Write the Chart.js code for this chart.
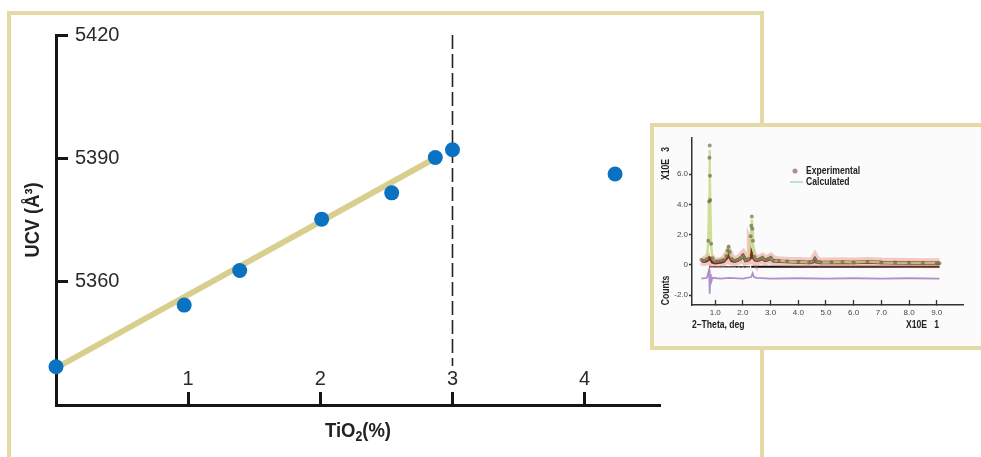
<!DOCTYPE html>
<html>
<head>
<meta charset="utf-8">
<script src="https://cdn.jsdelivr.net/npm/chart.js@4.4.1/dist/chart.umd.min.js"></script>
<style>
  html, body { margin: 0; padding: 0; background: #fff; }
  body { width: 981px; height: 457px; position: relative; overflow: hidden; }
  #frame { position: absolute; left: 7px; top: 11px; width: 757px; height: 520px; box-sizing: border-box;
           border: 4px solid #e3daa6; }
  #main { position: absolute; left: 0; top: 0; }
  #insetBox { position: absolute; left: 650px; top: 123px; width: 360px; height: 227px; box-sizing: border-box;
              border: 4px solid #e3daa6; background: #fbfbfb; }
  #inset { position: absolute; left: 654px; top: 127px; }
</style>
</head>
<body>
<div id="frame"></div>
<canvas id="main" width="981" height="457"></canvas>
<div id="insetBox"></div>
<canvas id="inset" width="327" height="219"></canvas>
<script>
'use strict';

// main plot: unit cell volume vs TiO2 content
var tio2 = [0, 0.97, 1.39, 2.01, 2.54, 2.87, 3.0, 4.23];
var ucv = [5339.3, 5354.3, 5362.7, 5375.2, 5381.6, 5390.2, 5392.1, 5386.2];
var fitX = [0, 2.9];
var fitY = [5339.0, 5390.6];
var limitX = [3, 3];
var limitY = [5420, 5339.5];
var xTicks = [1, 2, 3, 4];
var yTicks = [5360, 5390, 5420];

// inset: XRD refinement pattern (counts x10^3 vs 2-theta x10)
var twoTheta = [0.5, 0.6, 0.7, 0.75, 0.78, 0.79, 0.8, 0.81, 0.82, 0.85, 0.9, 1.0, 1.1, 1.2, 1.3,
  1.4, 1.45, 1.48, 1.52, 1.6, 1.7, 1.8, 1.9, 2.0, 2.05, 2.1, 2.2, 2.28, 2.3, 2.32,
  2.34, 2.36, 2.42, 2.5, 2.6, 2.7, 2.8, 2.9, 3.0, 3.1, 3.3, 3.6, 4.0, 4.4, 4.55,
  4.6, 4.65, 4.8, 5.2, 5.6, 6.0, 6.5, 7.0, 7.5, 8.0, 8.5, 9.0, 9.1];
var observed = [0.35, 0.3, 0.4, 1.6, 4.2, 7.1, 7.9, 5.9, 4.3, 1.4, 0.45, 0.25, 0.25, 0.3, 0.35,
  0.6, 0.95, 1.2, 0.85, 0.4, 0.3, 0.35, 0.45, 0.65, 0.5, 0.35, 0.4, 1.9, 2.6, 3.2,
  2.4, 1.6, 0.55, 0.35, 0.4, 0.5, 0.35, 0.4, 0.5, 0.3, 0.28, 0.25, 0.2, 0.18, 0.25,
  0.4, 0.25, 0.18, 0.18, 0.2, 0.17, 0.22, 0.17, 0.16, 0.14, 0.13, 0.12, 0.12];
var calculated = [0.33, 0.3, 0.38, 1.7, 4.5, 7.0, 7.6, 6.1, 4.1, 1.3, 0.4, 0.22, 0.24, 0.28, 0.33,
  0.62, 1.0, 1.1, 0.8, 0.38, 0.28, 0.33, 0.42, 0.6, 0.48, 0.33, 0.38, 1.8, 2.5, 3.0,
  2.4, 1.5, 0.5, 0.33, 0.38, 0.48, 0.33, 0.38, 0.48, 0.28, 0.26, 0.23, 0.19, 0.17, 0.23,
  0.37, 0.23, 0.17, 0.17, 0.19, 0.16, 0.21, 0.16, 0.15, 0.13, 0.12, 0.11, 0.11];
var background = [0.3, 0.25, 0.3, 0.4, 0.5, 0.55, 0.55, 0.5, 0.45, 0.35, 0.2, 0.15, 0.18, 0.2, 0.25,
  0.45, 0.6, 0.7, 0.55, 0.3, 0.25, 0.3, 0.4, 0.6, 0.45, 0.3, 0.35, 0.5, 0.65, 0.7,
  0.6, 0.55, 0.4, 0.3, 0.35, 0.45, 0.3, 0.35, 0.45, 0.28, 0.25, 0.22, 0.2, 0.17, 0.22,
  0.38, 0.22, 0.17, 0.17, 0.18, 0.16, 0.2, 0.16, 0.15, 0.13, 0.12, 0.11, 0.11];
var diffX = [0.5, 0.7, 0.78, 0.8, 0.82, 0.84, 0.9, 1.2, 1.5, 2.0, 2.3, 2.35, 2.4, 2.5, 3.0, 4.0, 5.0, 6.0, 7.0, 8.0, 9.1];
var diffY = [-0.9, -0.85, -0.3, -1.9, -0.6, -1.2, -0.85, -0.9, -0.85, -0.9, -0.8, -0.55, -0.8, -0.85, -0.9, -0.88, -0.9, -0.88, -0.9, -0.88, -0.9];
var reflX = [0.9, 1.1, 1.3, 1.5, 1.7, 1.85, 2.0, 2.15];
var reflLineX = [2.3, 9.1];
var reflY = -0.12;
var insetXTicks = [1, 2, 3, 4, 5, 6, 7, 8, 9];
var insetYTicks = [-2, 0, 2, 4, 6];

var SANS = '"Liberation Sans", Arial, sans-serif';

function pts(xs, ys) {
  var out = [];
  for (var i = 0; i < xs.length; i++) {
    out.push({x: xs[i], y: Array.isArray(ys) ? ys[i] : ys});
  }
  return out;
}

function fixedTicks(list) {
  return function(scale) {
    scale.ticks = list.map(function(v) { return {value: v}; });
  };
}

// draws condensed text by squeezing the context horizontally
function narrowText(ctx, text, x, y, sx, align) {
  ctx.save();
  ctx.translate(x, y);
  ctx.scale(sx, 1);
  ctx.textAlign = align || 'left';
  ctx.fillText(text, 0, 0);
  ctx.restore();
}

var mainTitles = {
  id: 'mainTitles',
  afterDraw: function(chart) {
    var ctx = chart.ctx, area = chart.chartArea;
    var sx = 0.88;
    ctx.save();
    ctx.fillStyle = '#222';
    ctx.textBaseline = 'alphabetic';
    // x title, with subscript 2
    var big = 'bold 21px ' + SANS, small = 'bold 14px ' + SANS;
    ctx.font = big;
    var w1 = ctx.measureText('TiO').width * sx, w3 = ctx.measureText('(%)').width * sx;
    ctx.font = small;
    var w2 = ctx.measureText('2').width * sx;
    var cx = (area.left + area.right) / 2;
    var x0 = cx - (w1 + w2 + w3) / 2, base = area.bottom + 31.5;
    ctx.font = big;
    narrowText(ctx, 'TiO', x0, base, sx);
    ctx.font = small;
    narrowText(ctx, '2', x0 + w1, base + 4, sx);
    ctx.font = big;
    narrowText(ctx, '(%)', x0 + w1 + w2, base, sx);
    // y title
    ctx.translate(39, (area.top + area.bottom) / 2);
    ctx.rotate(-Math.PI / 2);
    ctx.font = big;
    narrowText(ctx, 'UCV (\u00C5\u00B3)', 0, 0, 0.87, 'center');
    ctx.restore();
  }
};

new Chart(document.getElementById('main'), {
  type: 'scatter',
  data: {
    datasets: [
      {
        label: 'UCV',
        data: pts(tio2, ucv),
        pointRadius: 7.5,
        pointBackgroundColor: '#0b72c2',
        pointBorderWidth: 0,
        showLine: false,
        clip: false,
        order: 0
      },
      {
        label: 'fit',
        data: pts(fitX, fitY),
        showLine: true,
        borderColor: '#d8cf8e',
        borderWidth: 6,
        pointRadius: 0,
        borderCapStyle: 'butt',
        clip: false,
        order: 1
      },
      {
        label: 'limit',
        data: pts(limitX, limitY),
        showLine: true,
        borderColor: '#222',
        borderWidth: 1.6,
        borderDash: [14, 5],
        pointRadius: 0,
        clip: false,
        order: 2
      }
    ]
  },
  options: {
    responsive: false,
    animation: false,
    events: [],
    layout: {padding: {left: 0, top: 35, right: 321, bottom: 0}},
    plugins: {legend: {display: false}, tooltip: {enabled: false}},
    scales: {
      x: {
        type: 'linear', min: 0, max: 4.57,
        afterBuildTicks: fixedTicks(xTicks),
        afterFit: function(s) { s.height = 52; },
        border: {display: true, color: '#151515', width: 3},
        grid: {drawOnChartArea: false, drawTicks: true, tickLength: -13, tickWidth: 3, tickColor: '#151515'},
        ticks: {mirror: true, padding: 14, color: '#2a2a2a', font: {family: SANS, size: 20},
                callback: function(v) { return String(v); }}
      },
      y: {
        type: 'linear', min: 5330, max: 5420,
        afterBuildTicks: fixedTicks(yTicks),
        afterFit: function(s) { s.width = 56; },
        border: {display: true, color: '#151515', width: 3},
        grid: {drawOnChartArea: false, drawTicks: true, tickLength: -12, tickWidth: 3, tickColor: '#151515'},
        ticks: {mirror: true, padding: 19, color: '#2a2a2a', font: {family: SANS, size: 20},
                callback: function(v) { return String(v); }}
      }
    }
  },
  plugins: [mainTitles]
});

var insetText = {
  id: 'insetText',
  afterDraw: function(chart) {
    var ctx = chart.ctx;
    var sx = 0.82;
    ctx.save();
    ctx.fillStyle = '#222';
    ctx.font = 'bold 10.5px ' + SANS;
    ctx.textBaseline = 'alphabetic';
    narrowText(ctx, '2\u2013Theta, deg', 38, 201, sx);
    narrowText(ctx, 'X10E   1', 252, 201, sx);
    // rotated y labels
    ctx.save();
    ctx.translate(15, 36.5);
    ctx.rotate(-Math.PI / 2);
    narrowText(ctx, 'X10E   3', 0, 0, sx, 'center');
    ctx.restore();
    ctx.save();
    ctx.translate(15, 163.5);
    ctx.rotate(-Math.PI / 2);
    narrowText(ctx, 'Counts', 0, 0, sx, 'center');
    ctx.restore();
    // legend
    ctx.textBaseline = 'middle';
    narrowText(ctx, 'Experimental', 152, 44, sx);
    narrowText(ctx, 'Calculated', 152, 55, sx);
    ctx.fillStyle = 'rgba(150,110,140,0.8)';
    ctx.beginPath();
    ctx.arc(141, 44, 2.5, 0, Math.PI * 2);
    ctx.fill();
    ctx.strokeStyle = 'rgba(160,210,205,0.9)';
    ctx.lineWidth = 1.5;
    ctx.beginPath();
    ctx.moveTo(136, 55);
    ctx.lineTo(149, 55);
    ctx.stroke();
    ctx.restore();
  }
};

new Chart(document.getElementById('inset'), {
  type: 'scatter',
  data: {
    datasets: [
      {
        label: 'Experimental',
        data: pts(twoTheta, observed),
        showLine: false,
        pointRadius: 2,
        pointBackgroundColor: 'rgba(100,100,70,0.65)',
        pointBorderWidth: 0,
        order: 0
      },
      {
        label: 'Calculated',
        data: pts(twoTheta, calculated),
        showLine: true,
        borderColor: 'rgba(195,218,130,0.85)',
        borderWidth: 2.5,
        pointRadius: 0,
        order: 1
      },
      {
        label: 'band',
        data: pts(twoTheta, background),
        showLine: true,
        borderColor: 'rgba(120,20,22,0.9)',
        borderWidth: 3.5,
        pointRadius: 0,
        order: 2
      },
      {
        label: 'bandHalo',
        data: pts(twoTheta, background),
        showLine: true,
        borderColor: 'rgba(225,105,95,0.35)',
        borderWidth: 10,
        pointRadius: 0,
        order: 3
      },
      {
        label: 'reflections',
        data: pts(reflX, reflY),
        showLine: false,
        pointStyle: 'line',
        pointRadius: 3,
        pointBorderColor: 'rgba(40,40,40,0.8)',
        pointBorderWidth: 1.5,
        order: 4
      },
      {
        label: 'reflLine',
        data: pts(reflLineX, reflY),
        showLine: true,
        borderColor: '#111',
        borderWidth: 2,
        pointRadius: 0,
        order: 4
      },
      {
        label: 'difference',
        data: pts(diffX, diffY),
        showLine: true,
        borderColor: 'rgba(150,110,185,0.75)',
        borderWidth: 1.8,
        pointRadius: 0,
        order: 5
      }
    ]
  },
  options: {
    responsive: false,
    animation: false,
    events: [],
    layout: {padding: {left: 0, top: 11, right: 18, bottom: 0}},
    plugins: {legend: {display: false}, tooltip: {enabled: false}},
    scales: {
      x: {
        type: 'linear', min: 0.16, max: 9.95,
        afterBuildTicks: fixedTicks(insetXTicks),
        afterFit: function(s) { s.height = 41; },
        border: {display: true, color: '#333', width: 1.5},
        grid: {drawOnChartArea: false, drawTicks: true, tickLength: -5, tickWidth: 1.3, tickColor: '#333'},
        ticks: {padding: 8, color: '#444', font: {family: SANS, size: 8},
                callback: function(v) { return v.toFixed(1); }}
      },
      y: {
        type: 'linear', min: -2.65, max: 8.4,
        afterBuildTicks: fixedTicks(insetYTicks),
        afterFit: function(s) { s.width = 38; },
        border: {display: true, color: '#333', width: 1.5},
        grid: {drawOnChartArea: false, drawTicks: true, tickLength: 3, tickWidth: 1.3, tickColor: '#333'},
        ticks: {padding: 1, color: '#444', font: {family: SANS, size: 8},
                callback: function(v) { return v === 0 ? '0' : v.toFixed(1); }}
      }
    }
  },
  plugins: [insetText]
});
</script>
</body>
</html>
